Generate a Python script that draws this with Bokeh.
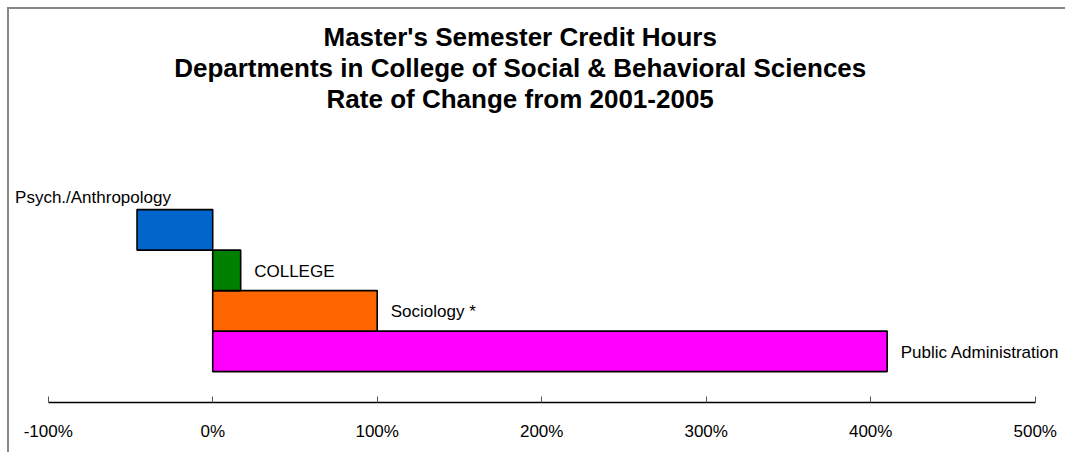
from bokeh.plotting import figure
from bokeh.models import ColumnDataSource, Range1d, FixedTicker, PrintfTickFormatter, Label
from bokeh.core.properties import value
from bokeh.embed import file_html
from bokeh.resources import INLINE

# ---- data ----
departments = ["Public Administration", "Sociology *", "COLLEGE", "Psych./Anthropology"]
change_pct = [410, 100, 17, -46]
bar_colors = ["#FF00FF", "#FF6600", "#008000", "#0066CC"]
tick_values = [-100, 0, 100, 200, 300, 400, 500]
title_lines = [
    "Master's Semester Credit Hours",
    "Departments in College of Social & Behavioral Sciences",
    "Rate of Change from 2001-2005",
]

# label styling (screen offsets, px)
label_dx = [13.5, 13.5, 13.5, -122]
label_dy = [1.1, 1.1, 1.5, -31.9]

FONT = "Liberation Sans"

src = ColumnDataSource(dict(
    name=departments,
    val=change_pct,
    pos=list(range(len(departments))),
    color=bar_colors,
    dx=label_dx,
    dy=label_dy,
))

p = figure(width=1058, height=445,
           x_range=Range1d(-123.53, 519.63), y_range=Range1d(-1.263, 8.441),
           output_backend="svg", toolbar_location=None,
           y_axis_location=None,
           min_border_left=0, min_border_right=0, min_border_top=0, min_border_bottom=52)
p.styles = {"margin-left": "7px", "margin-top": "7px",
            "border-left": "2px solid #888888", "border-top": "2px solid #888888"}
p.outline_line_color = None
p.background_fill_color = "white"
p.border_fill_color = "white"
p.xgrid.visible = False
p.ygrid.visible = False

p.hbar(y="pos", left=0, right="val", height=1, fill_color="color",
       line_color="black", line_width=1.6, source=src)

p.text(x="val", y="pos", text="name", x_offset="dx", y_offset="dy",
       text_align="left", text_baseline="alphabetic",
       text_font=value(FONT), text_font_size="17px", text_color="black", source=src)

ax = p.xaxis[0]
ax.ticker = FixedTicker(ticks=tick_values)
ax.formatter = PrintfTickFormatter(format="%d%%")
ax.bounds = (tick_values[0], tick_values[-1])
ax.axis_line_color = "black"
ax.axis_line_width = 1.5
ax.major_tick_in = 6
ax.major_tick_out = 0
ax.major_tick_line_color = "#555555"
ax.minor_tick_line_color = None
ax.major_label_standoff = 19
ax.major_label_text_font = FONT
ax.major_label_text_font_size = "17px"
ax.major_label_text_color = "black"

title_y = [365.5, 334.8, 304.0]
for line, ty in zip(title_lines, title_y):
    p.add_layout(Label(x=510.7, y=ty, x_units="screen", y_units="screen", text=line,
                       text_align="center", text_baseline="alphabetic",
                       text_font=FONT, text_font_size="26px", text_font_style="bold",
                       text_color="black"))

open("out.html", "w").write(file_html(p, INLINE))
